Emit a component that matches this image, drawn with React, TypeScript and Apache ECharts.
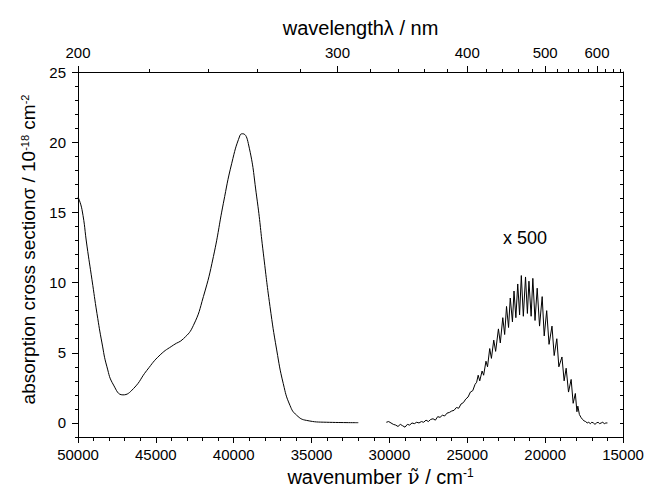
import React, { useEffect, useRef } from "react";
import * as echarts from "echarts";

// UV band (cm^-1, 10^-18 cm^2)
const uvWavenumber = [50000, 49744, 49423, 49102, 48782, 48461, 48141, 47717, 47115, 46435, 45576, 44723, 43870, 43229, 42588, 41947, 41305, 40664, 40126, 39593, 39420, 39061, 38523, 38099, 37670, 37240, 36817, 36387, 35958, 35316, 34034, 32000];
const uvSigma = [16.1, 15.2, 12.6, 10.2, 7.8, 5.7, 4.0, 2.7, 2.0, 2.45, 3.75, 4.85, 5.55, 6.0, 6.95, 9.0, 11.85, 15.65, 18.5, 20.5, 20.6, 19.9, 16.1, 12.1, 8.3, 5.2, 2.8, 1.25, 0.55, 0.18, 0.05, 0.02];

// visible band, values shown multiplied by 500
const visWavenumber = [30200, 30050, 29900, 29750, 29600, 29450, 29300, 29150, 29000, 28850, 28700, 28550, 28400, 28250, 28100, 27950, 27800, 27650, 27500, 27350, 27200, 27050, 26900, 26750, 26600, 26450, 26300, 26150, 26000, 25850, 25700, 25550, 25400, 25250, 25100, 24950, 24800, 24650, 24500, 24400, 24300, 24200, 24050, 23950, 23800, 23700, 23560, 23450, 23300, 23180, 23000, 22880, 22720, 22600, 22480, 22350, 22240, 22100, 22000, 21880, 21760, 21640, 21530, 21400, 21260, 21140, 21040, 20900, 20790, 20650, 20510, 20360, 20190, 20060, 19900, 19750, 19560, 19420, 19250, 19120, 18920, 18780, 18650, 18500, 18330, 18200, 18060, 17960, 17900, 17800, 17700, 17600, 17500, 17400, 17300, 17200, 17100, 17000, 16900, 16800, 16700, 16600, 16500, 16400, 16300, 16200, 16100, 16000];
const visSigmaX500 = [0.05, 0.1, 0.0, -0.1, -0.15, -0.25, -0.1, -0.2, -0.3, -0.1, -0.15, 0.0, -0.05, 0.05, 0.0, 0.1, 0.05, 0.2, 0.1, 0.25, 0.3, 0.2, 0.45, 0.4, 0.55, 0.5, 0.7, 0.75, 0.85, 0.9, 1.1, 1.05, 1.35, 1.45, 1.7, 1.85, 2.2, 2.3, 2.75, 2.9, 3.4, 3.0, 3.7, 3.4, 4.4, 4.0, 5.3, 4.6, 5.9, 5.1, 6.7, 5.7, 7.5, 6.3, 8.3, 6.8, 8.9, 7.2, 9.4, 7.5, 9.9, 7.7, 10.5, 7.6, 10.4, 7.8, 10.1, 7.6, 10.3, 7.3, 9.6, 6.9, 9.0, 6.2, 8.0, 5.6, 6.9, 4.8, 6.0, 4.0, 4.7, 3.0, 3.9, 2.2, 3.1, 1.4, 2.1, 0.8, 1.2, 0.6, 0.4, 0.25, 0.15, 0.1, 0.0, 0.05, -0.05, 0.05, 0.0, -0.1, 0.0, 0.05, -0.05, 0.0, 0.05, -0.05, 0.0, 0.0];

const wavenumberMajor = [15000, 20000, 25000, 30000, 35000, 40000, 45000, 50000];
const wavenumberMinor = [15000, 16000, 17000, 18000, 19000, 20000, 21000, 22000, 23000, 24000, 25000, 26000, 27000, 28000, 29000, 30000, 31000, 32000, 33000, 34000, 35000, 36000, 37000, 38000, 39000, 40000, 41000, 42000, 43000, 44000, 45000, 46000, 47000, 48000, 49000, 50000];
const wavelengthMajor = [200, 300, 400, 500, 600];
const wavelengthMinor = [220, 240, 260, 280, 320, 340, 360, 380, 420, 440, 460, 480, 520, 540, 560, 580, 620, 640, 660];
const yMajorTicks = [0, 5, 10, 15, 20, 25];
const yMinorTicks = [-1, 0, 1, 2, 3, 4, 5, 6, 7, 8, 9, 10, 11, 12, 13, 14, 15, 16, 17, 18, 19, 20, 21, 22, 23, 24, 25];
const annotationText = "x 500";
const annotationAt = [21300, 13.2];

const FONT = "'Liberation Sans', Arial, Helvetica, sans-serif";

export default function App() {
  const ref = useRef<HTMLDivElement>(null);
  useEffect(() => {
    document.body.style.margin = "0";
    const chart = echarts.init(ref.current!, null, { renderer: "svg" });
    const line = () => ({ show: true, onZero: false, lineStyle: { color: "#000", width: 1 } });
    const tick = (length: number, extra: any = {}) => ({ show: true, length, lineStyle: { color: "#000", width: 1 }, ...extra });
    const lbl = () => ({ color: "#000", fontSize: 15, fontFamily: FONT });
    const supRich = { fontSize: 12, verticalAlign: "top", color: "#000", fontFamily: FONT };
    const uvData = uvWavenumber.map((w, i) => [w, uvSigma[i]]);
    const visData = visWavenumber.map((w, i) => [w, visSigmaX500[i]]);
    const topMajor = wavelengthMajor.map((l) => 1e7 / l);
    const topMinor = wavelengthMinor.map((l) => 1e7 / l);
    const xBase = { type: "value", min: 15000, max: 50000, inverse: true, splitLine: { show: false } };
    const yBase = { type: "value", min: -1, max: 25, splitLine: { show: false } };
    const option: any = {
      animation: false,
      backgroundColor: "#fff",
      textStyle: { fontFamily: FONT, color: "#000" },
      grid: { left: 78, right: 22, top: 72, bottom: 54, outerBoundsMode: "none", containLabel: false },
      xAxis: [
        {
          ...xBase,
          position: "bottom",
          axisLine: line(),
          axisTick: tick(6, { customValues: wavenumberMajor }),
          axisLabel: { ...lbl(), margin: 10, customValues: wavenumberMajor, formatter: (v: number) => String(v) },
          name: "wavenumber {n|ν̃} / cm{sup|-1}",
          nameLocation: "middle",
          nameGap: 29,
          nameTextStyle: {
            fontSize: 20,
            color: "#000",
            fontFamily: FONT,
            padding: [0, 0, 0, 60],
            rich: {
              n: { fontSize: 20, fontFamily: "'DejaVu Serif', serif", color: "#000" },
              sup: supRich,
            },
          },
        },
        {
          ...xBase,
          position: "bottom",
          axisLine: line(),
          axisTick: tick(4, { customValues: wavenumberMinor }),
          axisLabel: { show: false },
        },
        {
          ...xBase,
          position: "top",
          axisLine: line(),
          axisTick: tick(6, { customValues: topMajor }),
          axisLabel: {
            ...lbl(),
            margin: 12,
            customValues: topMajor,
            formatter: (v: number) => String(Math.round(1e7 / v)),
          },
          name: "wavelengthλ / nm",
          nameLocation: "middle",
          nameGap: 34,
          nameTextStyle: { fontSize: 20, color: "#000", fontFamily: FONT, padding: [0, 0, 0, 20] },
        },
        {
          ...xBase,
          position: "top",
          axisLine: line(),
          axisTick: tick(3, { customValues: topMinor }),
          axisLabel: { show: false },
        },
      ],
      yAxis: [
        {
          ...yBase,
          position: "left",
          axisLine: line(),
          axisTick: tick(6, { customValues: yMajorTicks }),
          axisLabel: { ...lbl(), margin: 12, customValues: yMajorTicks },
          name: "absorption cross sectionσ / 10{sup|-18} cm{sup|-2}",
          nameLocation: "middle",
          nameGap: 39,
          nameTextStyle: {
            fontSize: 19,
            color: "#000",
            fontFamily: FONT,
            padding: [0, 0, 0, 10],
            rich: { sup: { ...supRich, fontSize: 11 } },
          },
        },
        {
          ...yBase,
          position: "left",
          axisLine: line(),
          axisTick: tick(3, { customValues: yMinorTicks }),
          axisLabel: { show: false },
        },
        {
          ...yBase,
          position: "right",
          axisLine: line(),
          axisTick: tick(3, { inside: true, customValues: yMinorTicks }),
          axisLabel: { show: false },
        },
      ],
      series: [
        {
          type: "line",
          xAxisIndex: 0,
          yAxisIndex: 0,
          data: uvData,
          showSymbol: false,
          smooth: true,
          lineStyle: { color: "#000", width: 1 },
        },
        {
          type: "line",
          xAxisIndex: 0,
          yAxisIndex: 0,
          data: visData,
          showSymbol: false,
          lineStyle: { color: "#000", width: 1 },
          markPoint: {
            symbol: "circle",
            symbolSize: 0,
            data: [{ coord: annotationAt }],
            label: { show: true, position: "inside", formatter: annotationText, fontSize: 18, color: "#000", fontFamily: FONT },
          },
        },
      ],
    };
    chart.setOption(option);
    return () => chart.dispose();
  }, []);
  return <div ref={ref} style={{ width: 645, height: 491 }} />;
}
